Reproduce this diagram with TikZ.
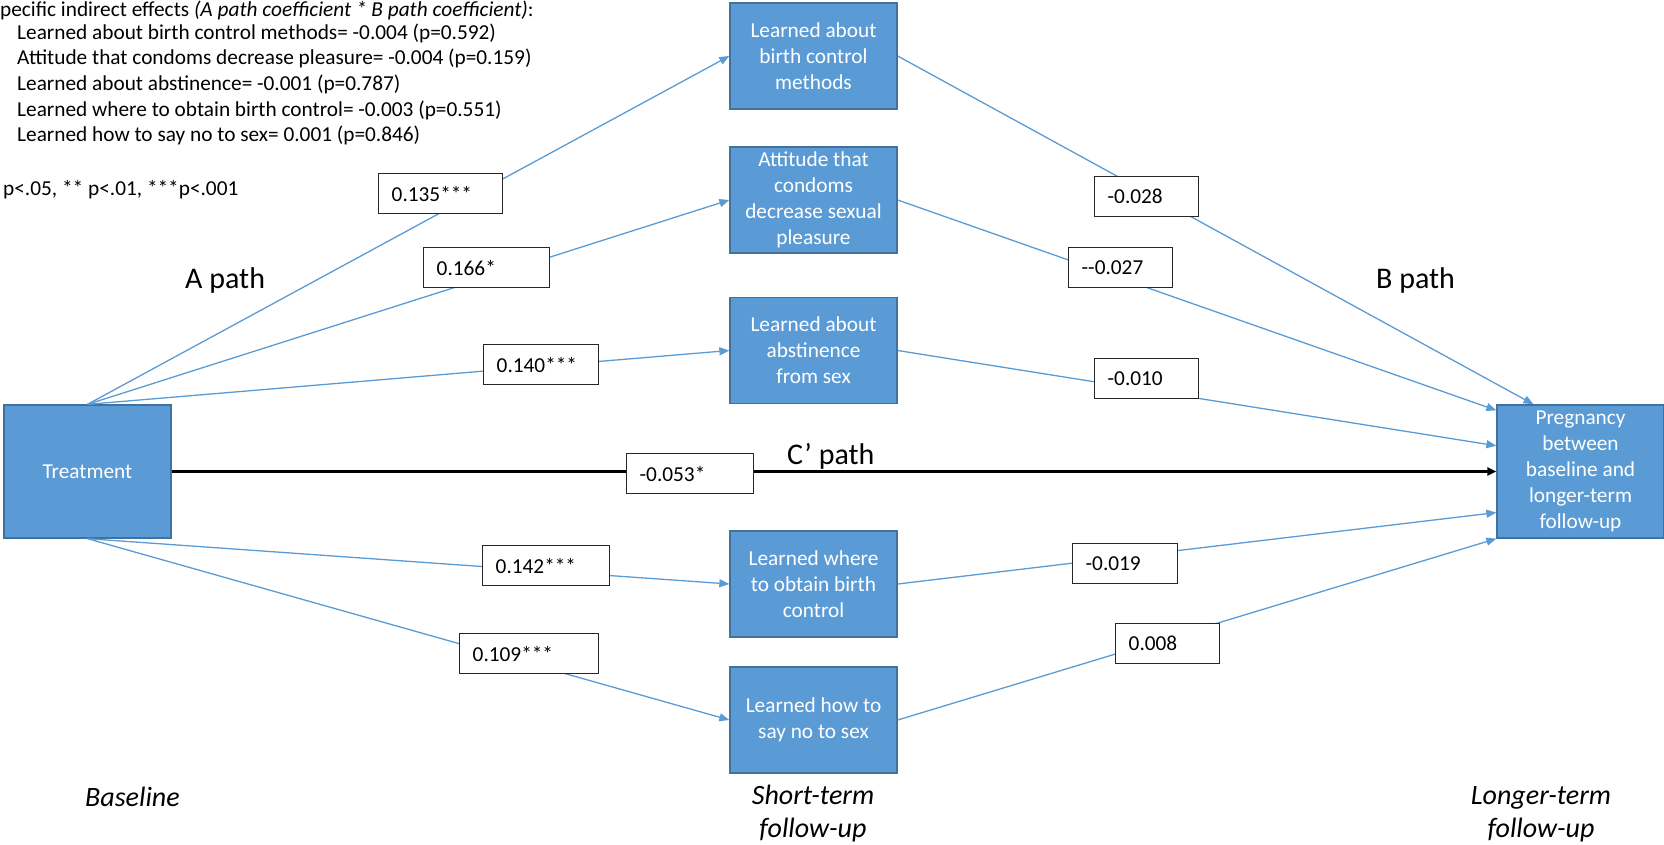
\documentclass[tikz,border=0pt]{standalone}
\usepackage{fontspec}
\setmainfont{Carlito}
\usetikzlibrary{arrows.meta}
\definecolor{boxblue}{HTML}{5B9BD5}
\definecolor{boxedge}{HTML}{41719C}
\definecolor{lineblue}{HTML}{5B9BD5}
\definecolor{lbledge}{HTML}{262626}
\tikzset{
  blk/.style={draw=boxedge, line width=1.3pt, fill=boxblue, text=white, minimum width=167pt,
    minimum height=106pt, inner sep=0pt, align=center, font=\fontsize{21.3pt}{26pt}\selectfont},
  conn/.style={draw=lineblue, line width=1.3pt, -{Triangle[length=10pt,width=8pt]}},
  cconn/.style={draw=black, line width=2.6pt, -{Triangle[length=9pt,width=8pt]}},
  lbl/.style={draw=lbledge, line width=1.4pt, fill=white, anchor=north west, inner xsep=13pt,
    inner ysep=0pt, minimum height=40pt, align=left, font=\fontsize{21.3pt}{26pt}\selectfont},
  txt/.style={anchor=base west, inner sep=0pt, font=\fontsize{21.3pt}{26pt}\selectfont},
  pathlbl/.style={anchor=base west, inner sep=0pt, font=\fontsize{30pt}{36pt}\selectfont},
  timelbl/.style={anchor=base, inner sep=0pt, font=\fontsize{28pt}{34pt}\selectfont\itshape}
}
\begin{document}
\begin{tikzpicture}[x=1pt,y=-1pt]
\useasboundingbox (0,0) rectangle (1664,845);

% main boxes
\node[blk, minimum height=133pt] (T) at (87.5,471.5) {Treatment};
\node[blk] (B1) at (813.5,56) {Learned about\\birth control\\methods};
\node[blk] (B2) at (813.5,200) {Attitude that\\condoms\\decrease sexual\\pleasure};
\node[blk] (B3) at (813.5,350.5) {Learned about\\abstinence\\from sex};
\node[blk] (B4) at (813.5,584) {Learned where\\to obtain birth\\control};
\node[blk] (B5) at (813.5,720) {Learned how to\\say no to sex};
\node[blk, minimum height=133pt] (P) at (1580.5,471.5) {Pregnancy\\between\\baseline and\\longer-term\\follow-up};

% A paths
\draw[conn] (T.north) -- (B1.west);
\draw[conn] (T.north) -- (B2.west);
\draw[conn] (T.north) -- (B3.west);
\draw[conn] (T.south) -- (B4.west);
\draw[conn] (T.south) -- (B5.west);
% B paths
\draw[conn] (B1.east) -- (P.125.5);
\draw[conn] (B2.east) -- (P.144.1);
\draw[conn] (B3.east) -- (P.163);
\draw[conn] (B4.east) -- (P.206.4);
\draw[conn] (B5.east) -- (P.south west);
% C' path
\draw[cconn] (T.east) -- (P.west);

% coefficient labels
\node[lbl, text width=98pt] (a1) at (378,173) {0.135***};
\node[lbl, text width=100pt] (a2) at (423,247) {0.166*};
\node[lbl, text width=89pt] (a3) at (483,344) {0.140***};
\node[lbl, text width=101pt] (c1) at (626,453) {-0.053*};
\node[lbl, text width=101pt] (a4) at (482,545) {0.142***};
\node[lbl, text width=113pt] (a5) at (459,633) {0.109***};
\node[lbl, text width=78pt] (b1) at (1094,176) {-0.028};
\node[lbl, text width=78pt] (b2) at (1068,247) {-{}-0.027};
\node[lbl, text width=78pt] (b3) at (1094,358) {-0.010};
\node[lbl, text width=79pt] (b4) at (1072,543) {-0.019};
\node[lbl, text width=78pt] (b5) at (1115,623) {0.008};

% top-left notes
\node[txt] (n0) at (0,16.5) {pecific indirect effects \textit{(A path coefficient * B path coefficient)}:};
\node[txt] (n1) at (17,39.5) {Learned about birth control methods= -0.004 (p=0.592)};
\node[txt] (n2) at (17,64.8) {Attitude that condoms decrease pleasure= -0.004 (p=0.159)};
\node[txt] (n3) at (17,90.4) {Learned about abstinence= -0.001 (p=0.787)};
\node[txt] (n4) at (17,116.1) {Learned where to obtain birth control= -0.003 (p=0.551)};
\node[txt] (n5) at (17,142) {Learned how to say no to sex= 0.001 (p=0.846)};
\node[txt] (n6) at (3,196) {p<.05, ** p<.01, ***p<.001};

% path names
\node[pathlbl] (ap) at (185,288) {A path};
\node[pathlbl] (bp) at (1376,288) {B path};
\node[pathlbl] (cp) at (787,464) {C’ path};

% time labels
\node[timelbl, anchor=base west] (tb) at (85,806) {Baseline};
\node[timelbl] (ts1) at (813,804) {Short-term};
\node[timelbl] (ts2) at (813,837) {follow-up};
\node[timelbl] (tl1) at (1541,804) {Longer-term};
\node[timelbl] (tl2) at (1541,837) {follow-up};
\end{tikzpicture}
\end{document}
